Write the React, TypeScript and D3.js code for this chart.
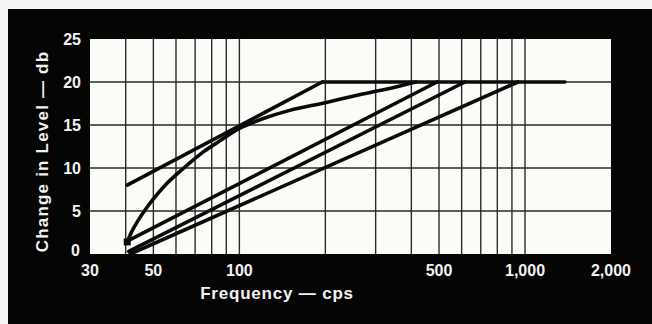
import React from "react";
import * as d3 from "d3";

const W = 652;
const H = 324;

const xTickValues = [30, 50, 100, 500, 1000, 2000];
const xTickLabels = ["30", "50", "100", "500", "1,000", "2,000"];
const yTickValues = [0, 5, 10, 15, 20, 25];
const xGridValues = [40, 50, 60, 70, 80, 90, 100, 200, 300, 400, 500, 600, 700, 800, 900, 1000];
const yGridValues = [5, 10, 15, 20];

// [frequency cps, change in level db]
const curveA: [number, number][] = [[40.5, 8.0], [195, 20]];
const curveB: [number, number][] = [
  [40.5, 1.4], [42, 2.6], [44, 3.8], [46.5, 5.0], [50, 6.4], [55, 8.0], [60, 9.2],
  [66, 10.4], [75, 11.9], [85, 13.1], [100, 14.6], [120, 15.7], [150, 16.7],
  [200, 17.6], [270, 18.6], [350, 19.4], [415, 20],
];
const curveC: [number, number][] = [[40.5, 1.5], [492, 20]];
const curveD: [number, number][] = [[41, 0.3], [616, 20]];
const curveE: [number, number][] = [[41.5, 0], [945, 20]];
const plateau: [number, number][] = [[195, 20], [1380, 20]];

const seriesList = [curveA, curveB, curveC, curveD, curveE, plateau];

export default function App() {
  const x = d3.scaleLog().domain([30, 2000]).range([90, 611]);
  const y = d3.scaleLinear().domain([0, 25]).range([254, 39]);
  const line = d3
    .line<[number, number]>()
    .x((d) => x(d[0]))
    .y((d) => y(d[1]))
    .curve(d3.curveCatmullRom.alpha(0.5));

  const font = "'Liberation Sans', Arial, sans-serif";

  return (
    <svg
      width={W}
      height={H}
      style={{ position: "absolute", left: 0, top: 0, display: "block" }}
    >
      <rect x={0} y={0} width={W} height={H} fill="#f4f4f2" />
      <rect x={8} y={9} width={W - 8} height={H - 9} fill="#050505" />
      <rect x={x(30)} y={y(25)} width={x(2000) - x(30)} height={y(0) - y(25)} fill="#fbfbf7" />

      {xGridValues.map((v) => (
        <line key={"gx" + v} x1={x(v)} x2={x(v)} y1={y(25)} y2={y(0)} stroke="#2a2a2a" strokeWidth={1.4} />
      ))}
      {yGridValues.map((v) => (
        <line key={"gy" + v} x1={x(30)} x2={x(2000)} y1={y(v)} y2={y(v)} stroke="#2a2a2a" strokeWidth={1.4} />
      ))}

      {seriesList.map((s, i) => (
        <path key={"s" + i} d={line(s) || ""} fill="none" stroke="#0a0a0a" strokeWidth={3.6} strokeLinecap="round" />
      ))}
      <rect x={x(40.5) - 3.5} y={y(1.4) - 3.5} width={7} height={7} fill="#0a0a0a" />

      {yTickValues.map((v) => (
        <text
          key={"yt" + v}
          x={v === 0 ? 80 : 81}
          y={v === 0 ? y(v) + 2 : y(v) + 6}
          fill="#f2f2f2"
          fontFamily={font}
          fontWeight={700}
          fontSize={16}
          textAnchor="end"
        >
          {v}
        </text>
      ))}
      {xTickValues.map((v, i) => (
        <text
          key={"xt" + v}
          x={x(v)}
          y={276}
          fill="#f2f2f2"
          fontFamily={font}
          fontWeight={700}
          fontSize={16}
          textAnchor="middle"
        >
          {xTickLabels[i]}
        </text>
      ))}

      <text
        x={277}
        y={299}
        fill="#f2f2f2"
        fontFamily={font}
        fontWeight={700}
        fontSize={17}
        letterSpacing={0.8}
        textAnchor="middle"
      >
        Frequency — cps
      </text>
      <text
        transform={`translate(48,${(y(0) + 25) / 2 + 12}) rotate(-90)`}
        fill="#f2f2f2"
        fontFamily={font}
        fontWeight={700}
        fontSize={17}
        letterSpacing={1.2}
        textAnchor="middle"
      >
        Change in Level — db
      </text>
    </svg>
  );
}
